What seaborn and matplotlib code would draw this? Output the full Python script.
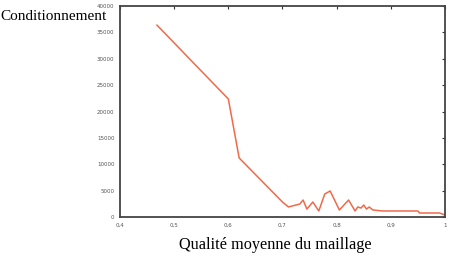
import matplotlib
matplotlib.use("Agg")
import matplotlib.pyplot as plt
import seaborn as sns
import pandas as pd
from matplotlib.ticker import FuncFormatter

quality = [0.468, 0.600, 0.620, 0.700, 0.711, 0.732, 0.738, 0.745, 0.756, 0.767,
           0.778, 0.788, 0.805, 0.822, 0.834, 0.839, 0.845, 0.850, 0.855, 0.860,
           0.867, 0.885, 0.950, 0.953, 0.990, 1.000]
conditioning = [36400, 22370, 11185, 2840, 1900, 2460, 3220, 1500, 2840, 1140,
                4360, 4930, 1330, 3220, 1140, 1900, 1700, 2270, 1500, 1900,
                1330, 1140, 1140, 760, 760, 380]
x_ticks = [0.4, 0.5, 0.6, 0.7, 0.8, 0.9, 1.0]
y_ticks = [0, 5000, 10000, 15000, 20000, 25000, 30000, 35000, 40000]

df = pd.DataFrame({"q": quality, "c": conditioning})

sns.set_style("white")
fig = plt.figure(figsize=(4.51, 2.58), dpi=100)
ax = fig.add_axes([120/451, 1-217/258, 325/451, 211/258])
sns.lineplot(data=df, x="q", y="c", ax=ax, color="#f06a4a", linewidth=1.1, sort=False)
ax.set_xlim(0.4, 1.0)
ax.set_ylim(0, 40000)
ax.set_xticks(x_ticks)
ax.set_yticks(y_ticks)
ax.xaxis.set_major_formatter(FuncFormatter(lambda v, p: ("%g" % v).replace(".", ",")))
ax.tick_params(axis="both", direction="in", length=2.5, width=0.8, color="#333333",
               labelsize=4, labelcolor="#555555", top=True, right=True,
               labeltop=False, labelright=False, pad=4)
for s in ax.spines.values():
    s.set_color("#444444")
    s.set_linewidth(1.3)
ax.set_xlabel("")
ax.set_ylabel("")
fig.text(0.5/451, 1-16.5/258, "Conditionnement", family="Liberation Serif", fontsize=11,
         ha="left", va="center", color="black")
fig.text(275/451, 1-245/258, "Qualité moyenne du maillage", family="Liberation Serif",
         fontsize=11.7, ha="center", va="center", color="black")
fig.savefig("out.png", dpi=100)
